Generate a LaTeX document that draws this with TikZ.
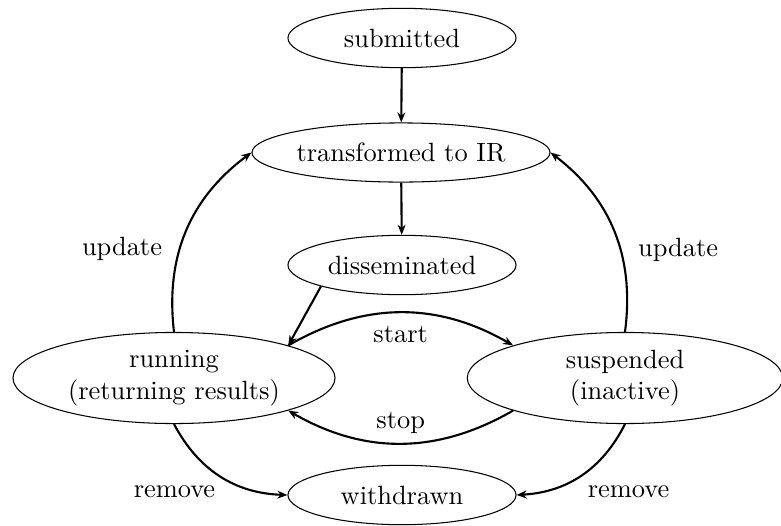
\documentclass[tikz,border=0pt]{standalone}
\usetikzlibrary{shapes.geometric,arrows.meta}
\begin{document}
\begin{tikzpicture}[
    x=0.3788pt, y=-0.3788pt,
    state/.style={ellipse, draw, line width=0.4pt, inner sep=0pt, align=center},
    short/.style={state, minimum width=86.4pt, minimum height=22.5pt},
    tall/.style={state, minimum height=34.5pt},
    trans/.style={line width=0.8pt, -{Stealth[length=3.8pt, width=3pt, inset=1.2pt]}}
  ]
  \useasboundingbox (0,0) rectangle (781,525);

  % states of a query
  \node[short] (sub) at (402,38) {submitted};
  \node[state, minimum width=112.9pt, minimum height=22.4pt] (tir) at (401,152.5) {transformed to IR};
  \node[short] (dis) at (402,265) {disseminated};
  \node[tall, minimum width=122pt] (run) at (174,378) {running\\(returning results)};
  \node[tall, minimum width=119.5pt] (sus) at (625,378) {suspended\\(inactive)};
  \node[short] (wd) at (402,495) {withdrawn};

  % transitions
  \draw[trans] (sub) -- (tir);
  \draw[trans] (tir) -- (dis);
  \draw[trans] (dis.south west) -- (run.north east);
  \draw[trans] (run.north east) to[bend left=30] node[below=1.5pt] {start} (sus.north west);
  \draw[trans] (sus.south west) to[bend left=30] node[above] {stop} (run.south east);
  \draw[trans] (run.north) to[bend left=30] node[pos=0.4, left=3pt] {update} (tir.west);
  \draw[trans] (sus.north) to[bend right=30] node[pos=0.4, right=3pt] {update} (tir.east);
  \draw[trans] (run.south) to[bend right=30] node[below left, xshift=1.8pt] {remove} (wd.west);
  \draw[trans] (sus.south) to[bend left=30] node[below right, xshift=-1.2pt] {remove} (wd.east);
\end{tikzpicture}
\end{document}
